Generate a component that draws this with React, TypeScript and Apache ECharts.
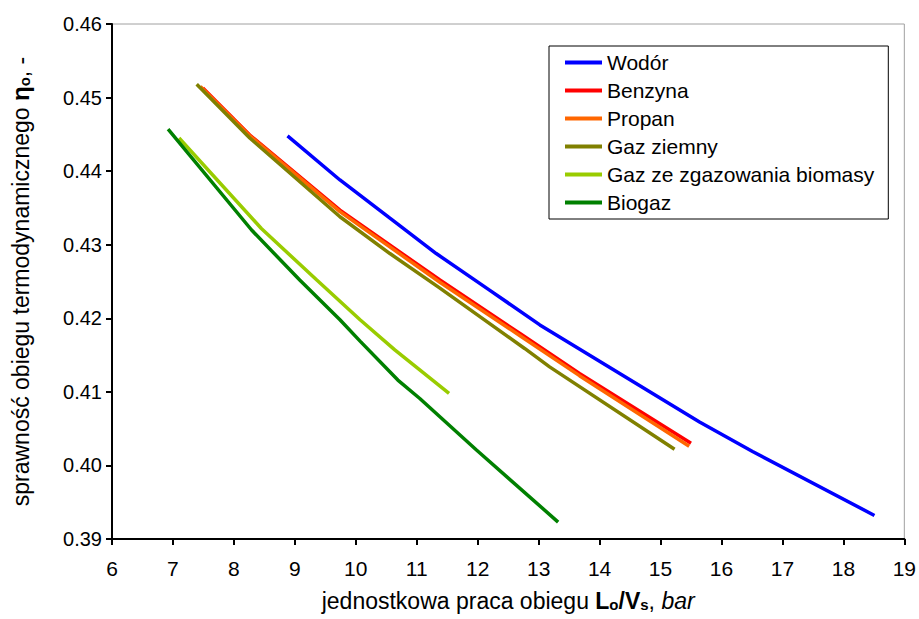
import React, { useEffect, useRef } from "react";
import * as echarts from "echarts";

const seriesNames = [
  "Wodór",
  "Benzyna",
  "Propan",
  "Gaz ziemny",
  "Gaz ze zgazowania biomasy",
  "Biogaz",
];
const seriesColors = ["#0000FF", "#FF0000", "#FF6600", "#808000", "#99CC00", "#008000"];

const wodor: number[][] = [
  [8.88, 0.4448], [9.74, 0.4388], [10.56, 0.4336], [11.32, 0.4288],
  [12.2, 0.4238], [13.02, 0.4191], [14.33, 0.4125], [15.64, 0.4059], [16.51, 0.4019], [18.51, 0.3932],
];
const benzyna: number[][] = [
  [7.49, 0.4513], [8.26, 0.4449], [9.74, 0.4347], [11.38, 0.4252], [12.7, 0.4179],
  [13.67, 0.4125], [15.5, 0.403],
];
const propan: number[][] = [
  [7.45, 0.4515], [8.26, 0.4448], [9.74, 0.4345], [11.38, 0.4249], [12.7, 0.4176],
  [13.67, 0.4122], [15.47, 0.4026],
];
const gazZiemny: number[][] = [
  [7.39, 0.4518], [8.26, 0.4445], [9.74, 0.4338], [10.56, 0.4288], [11.38, 0.4241],
  [12.77, 0.4159], [13.18, 0.4134], [15.23, 0.4022],
];
const gazBiomasy: number[][] = [
  [7.1, 0.4445], [8.45, 0.4322], [9.36, 0.4252], [10.07, 0.4198], [10.64, 0.4157], [11.53, 0.4098],
];
const biogaz: number[][] = [
  [6.92, 0.4457], [8.29, 0.432], [9.08, 0.4252], [9.74, 0.4198], [10.07, 0.4169], [10.69, 0.4116],
  [11.05, 0.4091], [11.98, 0.4021], [13.32, 0.3923],
];
const allData = [wodor, benzyna, propan, gazZiemny, gazBiomasy, biogaz];

const xMin = 6;
const xMax = 19;
const yMin = 0.39;
const yMax = 0.46;

const FONT = "'Liberation Sans', Arial, sans-serif";

export default function App() {
  const ref = useRef<HTMLDivElement>(null);
  useEffect(() => {
    if (!ref.current) return;
    const chart = echarts.init(ref.current, undefined, { renderer: "svg" });
    chart.setOption({
      animation: false,
      backgroundColor: "#ffffff",
      textStyle: { fontFamily: FONT },
      grid: {
        left: 112,
        right: 14,
        top: 24,
        bottom: 80,
        show: true,
        borderColor: "#a0a0a0",
        borderWidth: 1,
      },
      legend: {
        orient: "vertical",
        left: 549,
        top: 46,
        padding: [6, 14, 6, 16],
        itemGap: 7,
        itemWidth: 37,
        itemHeight: 4,
        icon: "rect",
        borderColor: "#000",
        borderWidth: 1,
        backgroundColor: "#fff",
        textStyle: { fontSize: 21, lineHeight: 21, color: "#000", fontFamily: FONT },
        data: seriesNames,
      },
      xAxis: {
        type: "value",
        min: xMin,
        max: xMax,
        interval: 1,
        axisLine: { show: true, lineStyle: { color: "#000", width: 2 } },
        axisTick: { show: true, inside: false, length: 6, lineStyle: { color: "#000", width: 2 } },
        axisLabel: { fontSize: 21, color: "#000", margin: 19, fontFamily: FONT },
        splitLine: { show: false },
        name:
          "{a|jednostkowa praca obiegu }{b|L}{s|o}{b|/V}{s|s}{a|, }{i|bar}",
        nameLocation: "middle",
        nameGap: 47,
        nameTextStyle: {
          rich: {
            a: { fontSize: 23, color: "#000", fontFamily: FONT, lineHeight: 26, verticalAlign: "bottom" },
            b: { fontSize: 23, color: "#000", fontWeight: "bold", fontFamily: FONT, lineHeight: 26, verticalAlign: "bottom" },
            s: { fontSize: 15, color: "#000", fontWeight: "bold", fontFamily: FONT, lineHeight: 21, verticalAlign: "bottom" },
            i: { fontSize: 23, color: "#000", fontStyle: "italic", fontFamily: FONT, lineHeight: 26, verticalAlign: "bottom" },
          },
        },
      },
      yAxis: {
        type: "value",
        min: yMin,
        max: yMax,
        interval: 0.01,
        axisLine: { show: true, lineStyle: { color: "#000", width: 2 } },
        axisTick: { show: true, inside: false, length: 6, lineStyle: { color: "#000", width: 2 } },
        axisLabel: {
          fontSize: 20,
          color: "#000",
          margin: 10,
          fontFamily: FONT,
          formatter: (v: number) => v.toFixed(2),
        },
        splitLine: { show: false },
        name: "{a|sprawność obiegu termodynamicznego }{b|η}{s|o}{a|, -}",
        nameLocation: "middle",
        nameGap: 80,
        nameRotate: 90,
        nameTextStyle: {
          rich: {
            a: { fontSize: 23, color: "#000", fontFamily: FONT, lineHeight: 26, verticalAlign: "bottom" },
            b: { fontSize: 24, color: "#000", fontWeight: "bold", fontFamily: FONT, lineHeight: 26, verticalAlign: "bottom" },
            s: { fontSize: 15, color: "#000", fontWeight: "bold", fontFamily: FONT, lineHeight: 21, verticalAlign: "bottom" },
          },
        },
      },
      series: seriesNames.map((name, i) => ({
        name,
        type: "line",
        data: allData[i],
        symbol: "none",
        showSymbol: false,
        smooth: false,
        color: seriesColors[i],
        lineStyle: { color: seriesColors[i], width: 3.5 },
        z: 2 + i,
      })),
    });
    return () => chart.dispose();
  }, []);
  return (
    <div
      ref={ref}
      style={{ position: "absolute", left: 0, top: 0, width: 919, height: 619, overflow: "hidden" }}
    />
  );
}
